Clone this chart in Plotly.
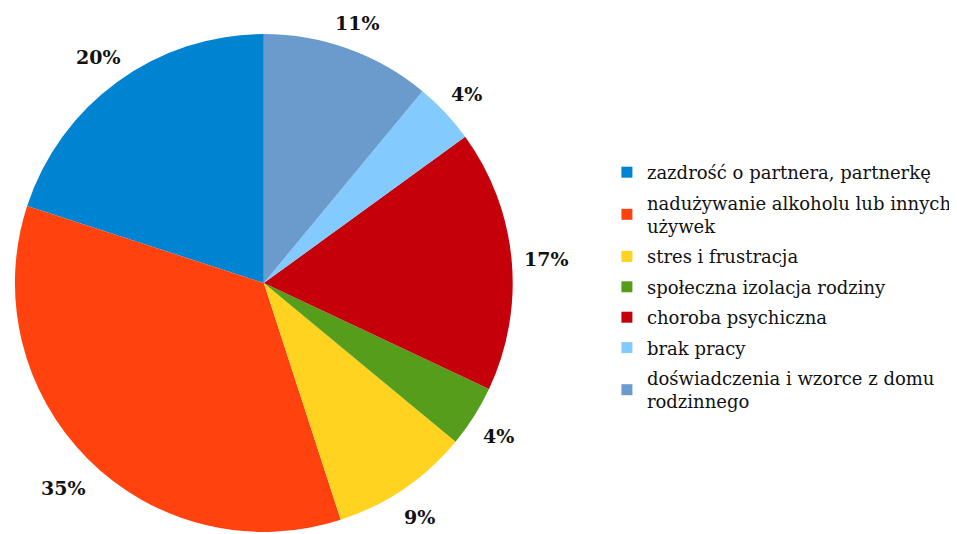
import math
import plotly.graph_objects as go

categories = [
    "zazdrość o partnera, partnerkę",
    "nadużywanie alkoholu lub innych<br>używek",
    "stres i frustracja",
    "społeczna izolacja rodziny",
    "choroba psychiczna",
    "brak pracy",
    "doświadczenia i wzorce z domu<br>rodzinnego",
]
values = [20, 35, 9, 4, 17, 4, 11]
colors = ["#0084d1", "#ff420e", "#ffd320", "#579d1c", "#c5000b", "#83caff", "#6a9bcc"]

# page body has an 8px margin, so the figure is sized to fit the 957x534 window
W, H = 949, 526
cx, top, r = 258, 24, 251
cy = top + r
label_gap = 12      # gap between pie edge and label box
label_dy = 3        # small downward shift of the label ring
char_w, box_h = 15, 18

fig = go.Figure()
fig.add_trace(go.Pie(
    labels=categories,
    values=values,
    sort=False,
    direction="counterclockwise",
    rotation=-72,
    marker=dict(colors=colors, line=dict(width=0)),
    textinfo="none",
    hoverinfo="label+percent",
    showlegend=False,
    domain=dict(x=[(cx - r) / W, (cx + r) / W], y=[max(0, (H - top - 2 * r) / H), (H - top) / H]),
))

# legend entries (one per category so item spacing can be set)
for cat, col in zip(categories, colors):
    fig.add_trace(go.Scatter(
        x=[None], y=[None], mode="markers", name=cat, legendgroup=cat,
        marker=dict(symbol="square", size=11, color=col),
        hoverinfo="skip",
    ))

# percentage labels placed just outside each slice along its mid-angle
total = sum(values)
cum = 0
for v in values:
    mid = (cum + v / 2) / total * 2 * math.pi
    cum += v
    txt = f"{round(v / total * 100)}%"
    dx, dy = -math.sin(mid), -math.cos(mid)
    support = abs(dx) * char_w * len(txt) / 2 + abs(dy) * box_h / 2
    d = r + label_gap + support
    sx = cx + d * dx
    sy = cy + label_dy + d * dy
    fig.add_annotation(
        x=sx / W, y=(H - sy) / H, xref="paper", yref="paper",
        xanchor="center", yanchor="middle",
        text=txt, showarrow=False,
        font=dict(family="DejaVu Serif", size=19, color="#111111", weight="bold"),
    )

fig.update_layout(
    width=W, height=H,
    margin=dict(l=0, r=0, t=0, b=0),
    paper_bgcolor="white",
    plot_bgcolor="white",
    xaxis=dict(visible=False),
    yaxis=dict(visible=False),
    showlegend=True,
    legend=dict(
        x=604 / W, y=1 - 146 / H, xanchor="left", yanchor="top",
        font=dict(family="DejaVu Serif", size=18, color="#111111"),
        itemwidth=30,
        traceorder="grouped",
        tracegroupgap=4,
    ),
)

fig.write_html("out.html")
